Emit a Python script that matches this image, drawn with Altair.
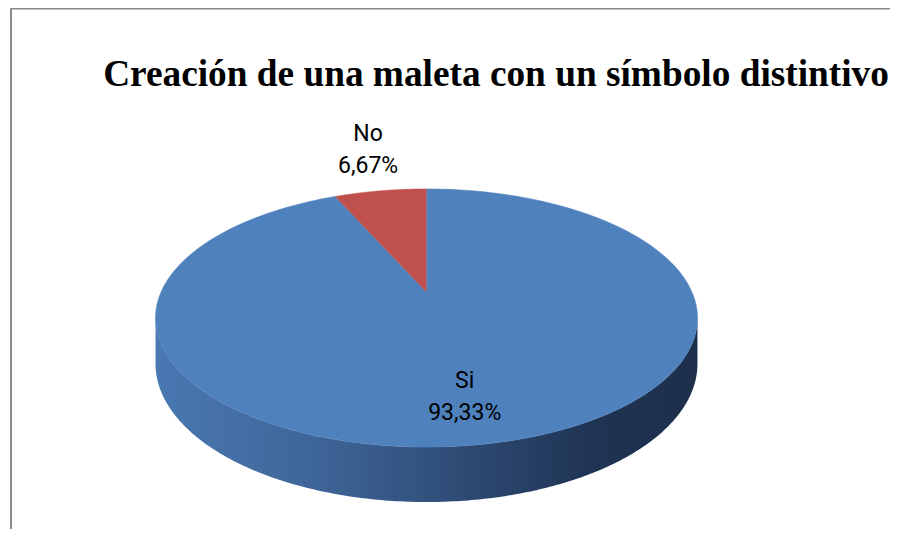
import altair as alt
import pandas as pd

# ---- data ----
categories = ["Si", "No"]
values = [93.33, 6.67]
slice_colors = ["#4f81bd", "#c0504d"]
TITLE = "Creación de una maleta con un símbolo distintivo"

# ---- layout / projection constants (pixels of plot area) ----
W, H = 882, 521
CX, CY = 418.5, 284.0      # projected pie centre
A, B, C = 265.4, 123.8, 0.2015   # horizontal radius, vertical radius, perspective factor
DEPTH = 43.9               # thickness of the pie
N = 240

slices = pd.DataFrame({"cat": categories, "val": values, "idx": list(range(len(categories)))})

xs = alt.Scale(domain=[0, W], nice=False, zero=False)
ys = alt.Scale(domain=[0, H], nice=False, zero=False, reverse=True)


def px(X, Z):
    return f"{CX} + {A}*({X})/(1 + {C}*({Z}))"


def py(Z):
    return f"{CY} - {B}*({Z})/(1 + {C}*({Z}))"


base = (
    alt.Chart(slices)
    .transform_joinaggregate(total="sum(val)")
    .transform_window(cum="sum(val)", sort=[alt.SortField("idx")], frame=[None, 0])
    .transform_calculate(
        a0="2*PI*(datum.cum - datum.val)/datum.total",
        a1="2*PI*datum.cum/datum.total",
    )
)

# side wall (front half of the cylinder)
side = (
    alt.Chart(alt.sequence(0, N + 1, as_="i"))
    .transform_calculate(phi=f"acos(-{C}) + (2*PI - 2*acos(-{C}))*datum.i/{N}")
    .transform_calculate(X="sin(datum.phi)", Z="cos(datum.phi)")
    .transform_calculate(
        px=px("datum.X", "datum.Z"),
        yt=py("datum.Z"),
    )
    .transform_calculate(yb=f"datum.yt + {DEPTH}/(1 + {C}*datum.Z)")
    .mark_area(
        interpolate="linear",
        color=alt.Gradient(
            gradient="linear",
            stops=[
                alt.GradientStop(color="#4a78b2", offset=0),
                alt.GradientStop(color="#3e6598", offset=0.3),
                alt.GradientStop(color="#2c4770", offset=0.6),
                alt.GradientStop(color="#1f3352", offset=0.82),
                alt.GradientStop(color="#1d2f4a", offset=1),
            ],
            x1=0, x2=1, y1=0, y2=0,
        ),
    )
    .encode(
        x=alt.X("px:Q", scale=xs, axis=None),
        y=alt.Y("yt:Q", scale=ys, axis=None),
        y2="yb:Q",
    )
)

# top face slices
top = (
    base.transform_calculate(steps=f"sequence(0, {N + 2})")
    .transform_flatten(["steps"], as_=["step"])
    .transform_calculate(phi=f"datum.a0 + (datum.a1 - datum.a0)*(datum.step - 1)/{N}")
    .transform_calculate(
        X="datum.step == 0 ? 0 : sin(datum.phi)",
        Z="datum.step == 0 ? 0 : cos(datum.phi)",
    )
    .transform_calculate(px=px("datum.X", "datum.Z"), py=py("datum.Z"))
    .mark_line(filled=True, interpolate="linear", strokeWidth=0.6)
    .encode(
        x=alt.X("px:Q", scale=xs, axis=None),
        y=alt.Y("py:Q", scale=ys, axis=None),
        color=alt.Color("cat:N", scale=alt.Scale(domain=categories, range=slice_colors), legend=None),
        stroke=alt.Stroke("cat:N", scale=alt.Scale(domain=categories, range=slice_colors), legend=None),
        order=alt.Order("step:Q"),
        detail="cat:N",
    )
)

# data labels: small slices outside the rim, large ones inside
labels = (
    base.transform_calculate(
        mid="(datum.a0 + datum.a1)/2",
        outside="datum.val/datum.total < 0.1",
    )
    .transform_calculate(
        rz="datum.outside ? 1.5 : 0.75",
        rx="datum.outside ? 1.37 : 0.59",
    )
    .transform_calculate(X="datum.rx*sin(datum.mid)", Z="datum.rz*cos(datum.mid)")
    .transform_calculate(
        px=px("datum.X", "datum.Z"),
        py=py("datum.Z"),
        txt="datum.cat + '\\n' + replace(format(datum.val/datum.total, '.2%'), '.', ',')",
    )
    .mark_text(font="Roboto", fontSize=23, lineHeight=32.5, baseline="middle",
               align="center", color="#000000", lineBreak="\n", dy=-18)
    .encode(
        x=alt.X("px:Q", scale=xs, axis=None),
        y=alt.Y("py:Q", scale=ys, axis=None),
        text="txt:N",
    )
)

dummy = alt.Data(values=[{"a": 1}])
border_left = alt.Chart(dummy).mark_rule(color="#8a8a8a", strokeWidth=2).encode(
    x=alt.value(3), y=alt.value(0), y2=alt.value(H)
)
border_top = alt.Chart(dummy).mark_rule(color="#8a8a8a", strokeWidth=1.5).encode(
    x=alt.value(2), x2=alt.value(W), y=alt.value(0.75)
)

title = alt.Chart(alt.Data(values=[{"t": TITLE}])).mark_text(
    font="Liberation Serif", fontSize=37.3, fontWeight="bold",
    align="center", baseline="alphabetic", color="#000000",
).encode(x=alt.value(488), y=alt.value(78), text="t:N")

chart = (
    alt.layer(border_left, border_top, side, top, labels, title)
    .properties(width=W, height=H, padding=0, autosize="none")
    .configure_view(stroke=None)
)

chart.save("out.html", embed_options={"renderer": "svg", "actions": False})
